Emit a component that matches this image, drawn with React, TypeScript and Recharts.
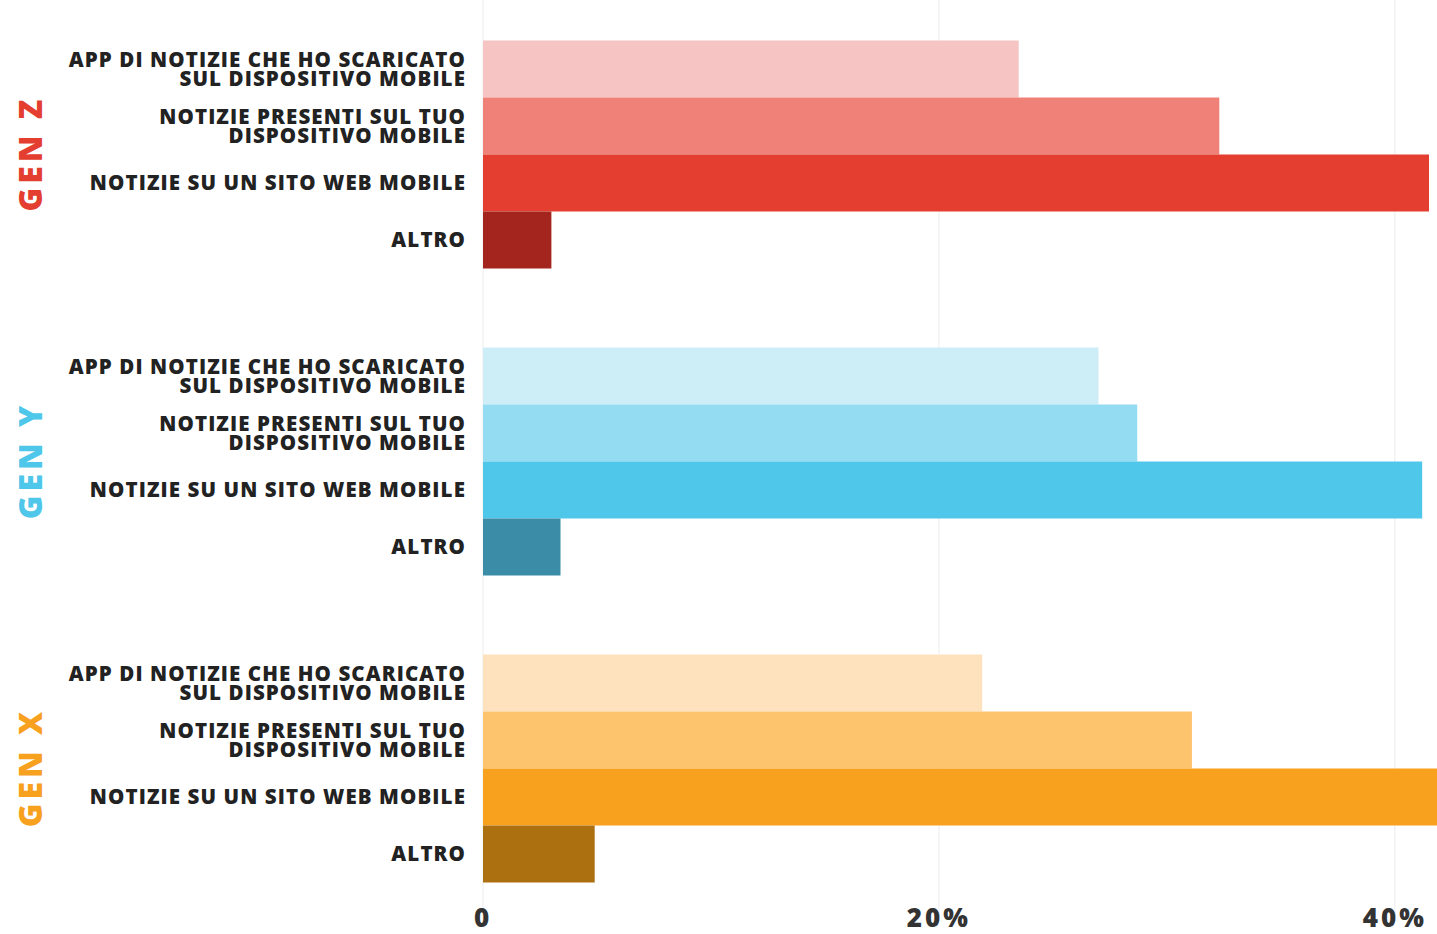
import { BarChart, Bar, XAxis, YAxis, CartesianGrid, Cell, LabelList } from "recharts";

const generations = ["GEN Z", "GEN Y", "GEN X"];
const genColors = ["#e33e30", "#4fc7ea", "#f7a11e"];

// percentuali
const appScaricata = [23.5, 27.0, 21.9];
const notiziePresenti = [32.3, 28.7, 31.1];
const sitoWeb = [41.5, 41.2, 43.5];
const altro = [3.0, 3.4, 4.9];

const rowLabels = [
  ["APP DI NOTIZIE CHE HO SCARICATO", "SUL DISPOSITIVO MOBILE"],
  ["NOTIZIE PRESENTI SUL TUO", "DISPOSITIVO MOBILE"],
  ["NOTIZIE SU UN SITO WEB MOBILE"],
  ["ALTRO"],
];

const appColors = ["#f5c4c3", "#cdeef6", "#fde2bd"];
const presentiColors = ["#ef8178", "#93dcf1", "#fdc46d"];
const webColors = ["#e33e30", "#4fc7ea", "#f7a11e"];
const altroColors = ["#a3251d", "#3b8ca6", "#ad7011"];

const xTicks = [0, 20, 40];

const data = generations.map((gen, i) => ({
  gen,
  app: appScaricata[i],
  presenti: notiziePresenti[i],
  web: sitoWeb[i],
  altro: altro[i],
}));

const series = [
  { key: "app", colors: appColors, label: rowLabels[0] },
  { key: "presenti", colors: presentiColors, label: rowLabels[1] },
  { key: "web", colors: webColors, label: rowLabels[2] },
  { key: "altro", colors: altroColors, label: rowLabels[3] },
];

const FONT = "'Open Sans', Lato, sans-serif";

function makeRowLabel(lines: string[]) {
  return (props: any) => {
    const { x, y, height } = props;
    const cx = x - 17;
    const cy = y + height / 2;
    const n = lines.length;
    return (
      <text
        textAnchor="end"
        fontFamily={FONT}
        fontWeight={800}
        fontSize={20.5}
        letterSpacing={1.1}
        fill="#222"
      >
        {lines.map((l, k) => (
          <tspan key={k} x={cx} y={cy + (k - (n - 1) / 2) * 19} dy="0.36em">
            {l}
          </tspan>
        ))}
      </text>
    );
  };
}

function GenTick(props: any) {
  const { y, payload, index } = props;
  return (
    <text
      x={30}
      y={y}
      transform={`rotate(-90 30 ${y})`}
      textAnchor="middle"
      dy="0.36em"
      fontFamily={FONT}
      fontWeight={800}
      fontSize={32}
      letterSpacing={4}
      fill={genColors[index]}
    >
      {payload.value}
    </text>
  );
}

function PctTick(props: any) {
  const { x, y, payload } = props;
  return (
    <text
      x={x}
      y={y - 2}
      textAnchor="middle"
      fontFamily={FONT}
      fontWeight={800}
      fontSize={26}
      letterSpacing={3}
      fill="#333"
    >
      {payload.value === 0 ? "0" : `${payload.value}%`}
    </text>
  );
}

export default function App() {
  return (
    <div
      style={{
        position: "fixed",
        left: 0,
        top: 0,
        width: 1437,
        height: 934,
        overflow: "hidden",
        background: "#fff",
      }}
    >
      <BarChart
        width={1486}
        height={934}
        data={data}
        layout="vertical"
        margin={{ top: 0, right: 0, bottom: 0, left: 0 }}
        barCategoryGap={40.5}
        barGap={0}
      >
        <CartesianGrid horizontal={false} stroke="#ececec" />
        <XAxis
          type="number"
          domain={[0, 44]}
          ticks={xTicks}
          axisLine={false}
          tickLine={false}
          height={13}
          tick={<PctTick />}
          interval={0}
        />
        <YAxis
          type="category"
          dataKey="gen"
          width={483}
          axisLine={false}
          tickLine={false}
          tick={<GenTick />}
        />
        {series.map((s) => (
          <Bar key={s.key} dataKey={s.key} isAnimationActive={false}>
            {data.map((_, i) => (
              <Cell key={i} fill={s.colors[i]} />
            ))}
            <LabelList dataKey={s.key} content={makeRowLabel(s.label)} />
          </Bar>
        ))}
      </BarChart>
    </div>
  );
}
